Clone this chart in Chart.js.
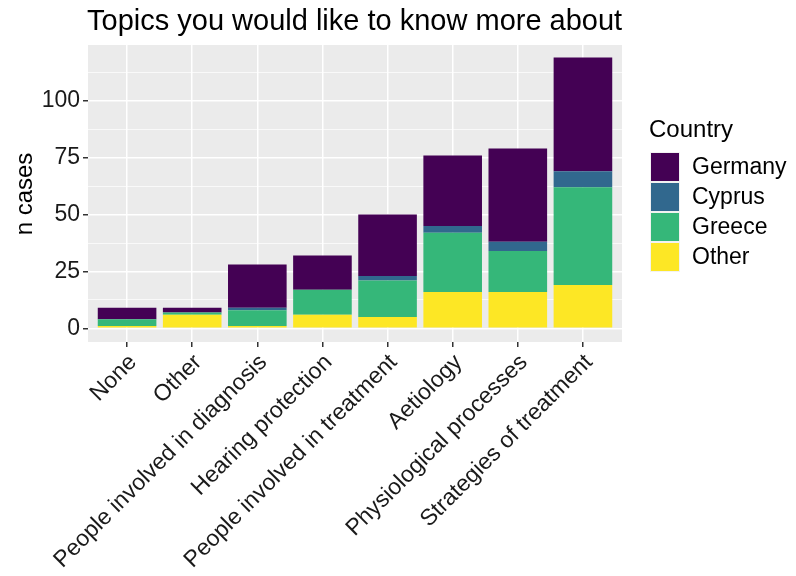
<!DOCTYPE html>
<html>
<head>
<meta charset="utf-8">
<script src="https://cdn.jsdelivr.net/npm/chart.js@4/dist/chart.umd.min.js"></script>
<style>
  html, body { margin: 0; padding: 0; background: #fff; }
  #wrap { width: 796px; height: 576px; }
</style>
</head>
<body>
<div id="wrap"><canvas id="chart"></canvas></div>
<script>
// data
var topics = ["None", "Other", "People involved in diagnosis", "Hearing protection",
  "People involved in treatment", "Aetiology", "Physiological processes", "Strategies of treatment"];
var other   = [1, 6, 1, 6, 5, 16, 16, 19];
var greece  = [3, 1, 7, 11, 16, 26, 18, 43];
var cyprus  = [0, 0, 1, 0, 2, 3, 4, 7];
var germany = [5, 2, 19, 15, 27, 31, 41, 50];
var yTicks = [0, 25, 50, 75, 100];

var countries = ["Germany", "Cyprus", "Greece", "Other"];
var colors = { Germany: "#440154", Cyprus: "#31688E", Greece: "#35B779", Other: "#FDE725" };
var FONT = '"Liberation Sans", Arial, sans-serif';

function pts(arr) {
  return arr.map(function (v, i) { return { x: i + 1, y: v }; });
}

// ggplot style panel, title and legend
var ggPlugin = {
  id: 'gg',
  beforeDraw: function (chart) {
    var c = chart.ctx, a = chart.chartArea;
    c.save();
    c.fillStyle = '#EBEBEB';
    c.fillRect(a.left, a.top, a.right - a.left, a.bottom - a.top);
    c.restore();
  },
  afterDraw: function (chart) {
    var c = chart.ctx;
    c.save();
    c.fillStyle = '#000';
    c.textBaseline = 'middle';
    c.textAlign = 'left';
    c.font = '29px ' + FONT;
    c.fillText('Topics you would like to know more about', 87, 22);

    // y axis title
    c.save();
    c.translate(25, 194);
    c.rotate(-Math.PI / 2);
    c.textAlign = 'center';
    c.font = '24px ' + FONT;
    c.fillText('n cases', 0, 0);
    c.restore();

    // legend
    c.font = '24px ' + FONT;
    c.fillText('Country', 649, 130);
    c.font = '23px ' + FONT;
    countries.forEach(function (name, i) {
      var y = 152 + i * 30;
      c.fillStyle = '#F2F2F2';
      c.fillRect(650, y, 30, 30);
      c.fillStyle = colors[name];
      c.fillRect(651, y + 1, 28, 28);
      c.fillStyle = '#000';
      c.fillText(name, 692, y + 16);
    });
    c.restore();
  }
};

new Chart(document.getElementById('chart'), {
  type: 'bar',
  data: {
    datasets: [
      { label: 'Other', data: pts(other), backgroundColor: colors.Other },
      { label: 'Greece', data: pts(greece), backgroundColor: colors.Greece },
      { label: 'Cyprus', data: pts(cyprus), backgroundColor: colors.Cyprus },
      { label: 'Germany', data: pts(germany), backgroundColor: colors.Germany }
    ]
  },
  options: {
    responsive: true,
    maintainAspectRatio: false,
    animation: false,
    barPercentage: 0.9,
    categoryPercentage: 1,
    layout: { padding: { top: 45, right: 174, left: 0, bottom: 0 } },
    plugins: { legend: { display: false }, tooltip: { enabled: false } },
    scales: {
      x: {
        type: 'linear',
        stacked: true,
        offset: false,
        min: 0.4,
        max: 8.6,
        afterBuildTicks: function (s) {
          s.ticks = topics.map(function (t, i) { return { value: i + 1 }; });
        },
        afterFit: function (s) {
          s.height = 234;
          s.paddingLeft = 0;
          s.paddingRight = 0;
        },
        border: { display: false },
        grid: { color: '#FFFFFF', lineWidth: 1.5, tickColor: '#333', tickLength: 5, offset: false },
        ticks: {
          autoSkip: false,
          minRotation: 45,
          maxRotation: 45,
          padding: 2,
          labelOffset: 6,
          color: '#1a1a1a',
          font: { family: FONT, size: 23 },
          callback: function (v) { return topics[v - 1]; }
        }
      },
      y: {
        stacked: true,
        min: -6,
        max: 124.5,
        afterBuildTicks: function (s) {
          var t = [];
          for (var v = 0; v <= 112.5; v += 12.5) t.push({ value: v });
          s.ticks = t;
        },
        afterFit: function (s) { s.width = 88; },
        border: { display: false },
        grid: {
          color: '#FFFFFF',
          lineWidth: function (ctx) { return ctx.tick && yTicks.indexOf(ctx.tick.value) >= 0 ? 1.5 : 0.7; },
          tickColor: function (ctx) { return ctx.tick && yTicks.indexOf(ctx.tick.value) >= 0 ? '#333' : 'rgba(0,0,0,0)'; },
          tickLength: 5
        },
        ticks: {
          padding: 3,
          color: '#1a1a1a',
          font: { family: FONT, size: 23 },
          callback: function (v) { return yTicks.indexOf(v) >= 0 ? String(v) : ''; }
        }
      }
    }
  },
  plugins: [ggPlugin]
});
</script>
</body>
</html>
